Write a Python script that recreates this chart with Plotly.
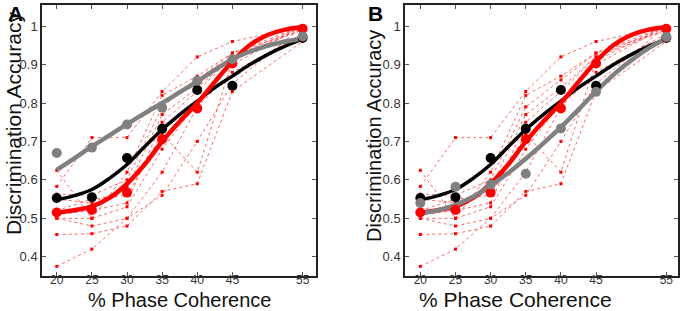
import plotly.graph_objects as go

# ---------------- data ----------------
coherence = [20, 25, 30, 35, 40, 45, 55]
y_ticks = [0.4, 0.5, 0.6, 0.7, 0.8, 0.9, 1.0]
y_tick_labels = ["0.4", "0.5", "0.6", "0.7", "0.8", "0.9", "1"]

# individual subjects (red dashed)
subjects = [
    [0.583, 0.71, 0.71, 0.83, 0.92, 0.96, 1.00],
    [0.625, 0.50, 0.62, 0.82, 0.87, 0.93, 1.00],
    [0.563, 0.56, 0.60, 0.79, 0.86, 0.93, 0.99],
    [0.550, 0.54, 0.58, 0.77, 0.84, 0.92, 1.00],
    [0.520, 0.55, 0.56, 0.72, 0.62, 0.91, 1.00],
    [0.510, 0.52, 0.54, 0.75, 0.83, 0.92, 0.99],
    [0.500, 0.50, 0.53, 0.68, 0.80, 0.90, 1.00],
    [0.500, 0.48, 0.50, 0.62, 0.79, 0.88, 0.98],
    [0.458, 0.46, 0.48, 0.57, 0.59, 0.83, 0.96],
    [0.375, 0.42, 0.50, 0.56, 0.70, 0.85, 1.00],
]

# group means
red_mean = [0.515, 0.522, 0.567, 0.706, 0.786, 0.903, 0.993]
black_mean = [0.553, 0.555, 0.657, 0.733, 0.834, 0.845, 0.970]
gray_mean_A = [0.670, 0.684, 0.744, 0.788, 0.858, 0.914, 0.973]
gray_mean_B = [0.540, 0.582, 0.588, 0.616, 0.734, 0.829, 0.972]

# fitted curves
fit_x = [20, 22.5, 25, 27.5, 30, 32.5, 35, 37.5, 40, 42.5, 45, 47.5, 50, 52.5, 55]
red_fit = [0.515, 0.521, 0.531, 0.553, 0.590, 0.640, 0.700, 0.752, 0.800, 0.855, 0.908, 0.951, 0.977, 0.991, 0.997]
black_fit = [0.548, 0.559, 0.575, 0.604, 0.640, 0.686, 0.731, 0.770, 0.805, 0.840, 0.870, 0.900, 0.926, 0.948, 0.966]
gray_fit_A = [0.626, 0.656, 0.687, 0.716, 0.745, 0.773, 0.800, 0.828, 0.856, 0.886, 0.914, 0.934, 0.949, 0.960, 0.968]
gray_fit_B = [0.513, 0.521, 0.535, 0.556, 0.585, 0.618, 0.655, 0.695, 0.737, 0.783, 0.830, 0.874, 0.911, 0.943, 0.968]

RED = "#ff0000"
GRAY = "#808080"
BLACK = "#000000"

fig = go.Figure()

def add_panel(xa, ya, gray_fit, gray_mean):
    for s in subjects:
        fig.add_trace(go.Scatter(
            x=coherence, y=s, mode="lines+markers", xaxis=xa, yaxis=ya,
            line=dict(color="rgba(255,0,0,0.6)", width=1, dash="dot"),
            marker=dict(symbol="square", size=3, color=RED),
            showlegend=False, hoverinfo="skip"))
    fig.add_trace(go.Scatter(x=fit_x, y=black_fit, mode="lines", xaxis=xa, yaxis=ya,
                             line=dict(color=BLACK, width=3.5, shape="spline"), showlegend=False))
    fig.add_trace(go.Scatter(x=fit_x, y=red_fit, mode="lines", xaxis=xa, yaxis=ya,
                             line=dict(color=RED, width=4.5, shape="spline"), showlegend=False))
    fig.add_trace(go.Scatter(x=fit_x, y=gray_fit, mode="lines", xaxis=xa, yaxis=ya,
                             line=dict(color=GRAY, width=4.5, shape="spline"), showlegend=False))
    for vals, col in [(black_mean, BLACK), (red_mean, RED), (gray_mean, GRAY)]:
        fig.add_trace(go.Scatter(x=coherence, y=vals, mode="markers", xaxis=xa, yaxis=ya,
                                 marker=dict(size=10, color=col), showlegend=False))

add_panel("x", "y", gray_fit_A, gray_mean_A)
add_panel("x2", "y2", gray_fit_B, gray_mean_B)

W, H = 686, 311
FONT = "Liberation Sans, Arial, Helvetica, sans-serif"

def xax(domain, rng):
    return dict(domain=domain, range=rng, tickmode="array", tickvals=coherence,
                ticktext=[str(c) for c in coherence], ticks="inside", ticklen=4,
                tickcolor="#555", showline=True, linecolor="#222", linewidth=1.5,
                mirror="ticks", showgrid=False, zeroline=False, ticklabelstandoff=-8,
                tickfont=dict(size=12, color="#333", family=FONT))

def yax(domain, anchor):
    return dict(domain=domain, range=[0.35, 1.055], tickmode="array", tickvals=y_ticks,
                ticktext=y_tick_labels, ticks="inside", ticklen=4, tickcolor="#555",
                showline=True, linecolor="#222", linewidth=1.5, mirror="ticks",
                showgrid=False, zeroline=False, anchor=anchor,
                tickfont=dict(size=13, color="#333", family=FONT))

def ann(text, x, y, size, angle=0, color="#111"):
    return dict(text=text, x=x / W, y=1 - y / H, xref="paper", yref="paper",
                xanchor="center", yanchor="middle", textangle=angle, showarrow=False,
                font=dict(size=size, color=color, family=FONT))

yd = [1 - 276 / H, 1 - 5 / H]
fig.update_layout(
    width=W, height=H, margin=dict(l=0, r=0, t=0, b=0),
    paper_bgcolor="white", plot_bgcolor="white",
    xaxis=dict(**xax([42 / W, 316 / W], [17.9, 56.9]), anchor="y"),
    yaxis=yax(yd, "x"),
    xaxis2=dict(**xax([405 / W, 678 / W], [17.82, 56.66]), anchor="y2"),
    yaxis2=yax(yd, "x2"),
    annotations=[
        ann("<b>A</b>", 15, 13, 21, color="black"),
        ann("<b>B</b>", 376, 13, 21, color="black"),
        ann("Discrimination Accuracy", 13, 124, 21, angle=-90),
        ann("Discrimination Accuracy", 374, 136, 20, angle=-90),
        ann("% Phase Coherence", 179, 300, 20),
        ann("% Phase Coherence", 515, 299.5, 21),
    ],
)

fig.write_html("out.html", config={"displayModeBar": False},
               post_script="document.body.style.margin='0px';")
